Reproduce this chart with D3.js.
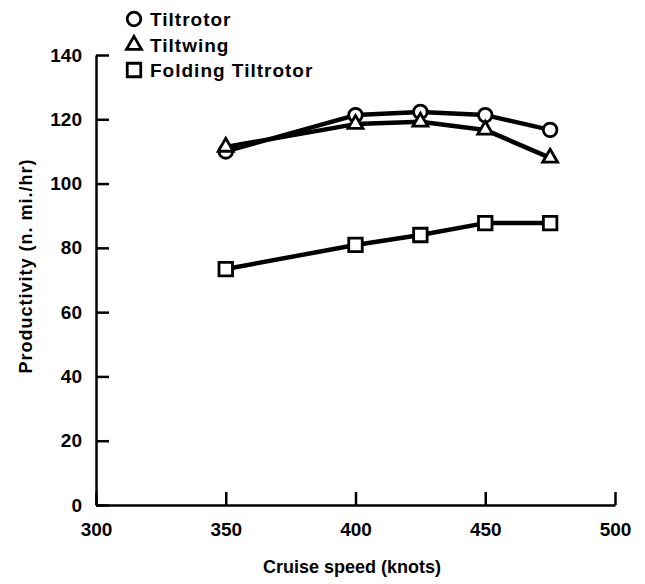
<!DOCTYPE html>
<html><head><meta charset="utf-8">
<script src="https://cdn.jsdelivr.net/npm/d3@7"></script>
<style>
body{margin:0;background:#fff;}
text{font-family:"Liberation Sans",Arial,Helvetica,sans-serif;font-weight:bold;fill:#000;}
</style></head>
<body>
<svg id="c" width="645" height="584"></svg>
<script>
const speeds = [350, 400, 425, 450, 475];
const tiltrotor = [110, 121.3, 122.3, 121.3, 116.7];
const tiltwing = [111.4, 118.5, 119.2, 116.7, 108];
const foldingTiltrotor = [73.4, 80.9, 84, 87.7, 87.7];
const seriesNames = ["Tiltrotor", "Tiltwing", "Folding Tiltrotor"];
const xTicks = [300, 350, 400, 450, 500];
const yTicks = [0, 20, 40, 60, 80, 100, 120, 140];

const svg = d3.select("#c");
const x = d3.scaleLinear().domain([300, 500]).range([96, 615]);
const y = d3.scaleLinear().domain([0, 140]).range([505, 55]);

// axes
const yAxis = d3.axisLeft(y).tickValues(yTicks).tickSize(-13).tickSizeOuter(0).tickPadding(14).tickFormat(d3.format("d"));
const gy = svg.append("g").attr("transform", `translate(${x(300)},0)`).call(yAxis);
const xAxis = d3.axisBottom(x).tickValues(xTicks).tickSize(-13).tickSizeOuter(0).tickPadding(18).tickFormat(d3.format("d"));
const gx = svg.append("g").attr("transform", `translate(0,${y(0)})`).call(xAxis);
[gx, gy].forEach(g => {
  g.select(".domain").attr("stroke", "#000").attr("stroke-width", 2.5);
  g.selectAll(".tick line").attr("stroke", "#000").attr("stroke-width", 2.5);
  g.selectAll(".tick text").style("font-size", "19px").style("font-weight", "bold").style("font-family", '"Liberation Sans",Arial,sans-serif');
});

// axis titles
svg.append("text").attr("x", 352).attr("y", 573).attr("text-anchor", "middle")
  .style("font-size", "18px").text("Cruise speed (knots)");
svg.append("text").attr("transform", "translate(32,266) rotate(-90)").attr("text-anchor", "middle")
  .style("font-size", "18px").style("letter-spacing", "1px").text("Productivity (n. mi./hr)");

// series
const series = [
  {name: seriesNames[0], values: tiltrotor, sym: d3.symbolCircle},
  {name: seriesNames[1], values: tiltwing, sym: d3.symbolTriangle},
  {name: seriesNames[2], values: foldingTiltrotor, sym: d3.symbolSquare}
];
const line = d3.line().x((d, i) => x(speeds[i])).y(d => y(d));
series.forEach(s => {
  svg.append("path").datum(s.values).attr("d", line)
    .attr("fill", "none").attr("stroke", "#000").attr("stroke-width", 4.5).attr("stroke-linejoin", "round");
});
function sym(type) {
  const area = type === d3.symbolCircle ? Math.PI * 6.8 * 6.8 : (type === d3.symbolSquare ? 13.5 * 13.5 : 15 * 15 * Math.sqrt(3) / 4);
  return d3.symbol().type(type).size(area)();
}
series.forEach(s => {
  svg.append("g").selectAll("path").data(s.values).join("path")
    .attr("d", sym(s.sym))
    .attr("transform", (d, i) => `translate(${x(speeds[i])},${y(d)})`)
    .attr("fill", "#fff").attr("stroke", "#000").attr("stroke-width", 2.8);
});

// legend
const legendY = [19, 45, 70];
series.forEach((s, i) => {
  svg.append("path").attr("d", sym(s.sym)).attr("transform", `translate(134,${legendY[i]})`)
    .attr("fill", "#fff").attr("stroke", "#000").attr("stroke-width", 2.8);
  svg.append("text").attr("x", 150).attr("y", legendY[i] + 7).style("font-size", "19px")
    .style("letter-spacing", "1px").text(s.name);
});
</script>
</body></html>
